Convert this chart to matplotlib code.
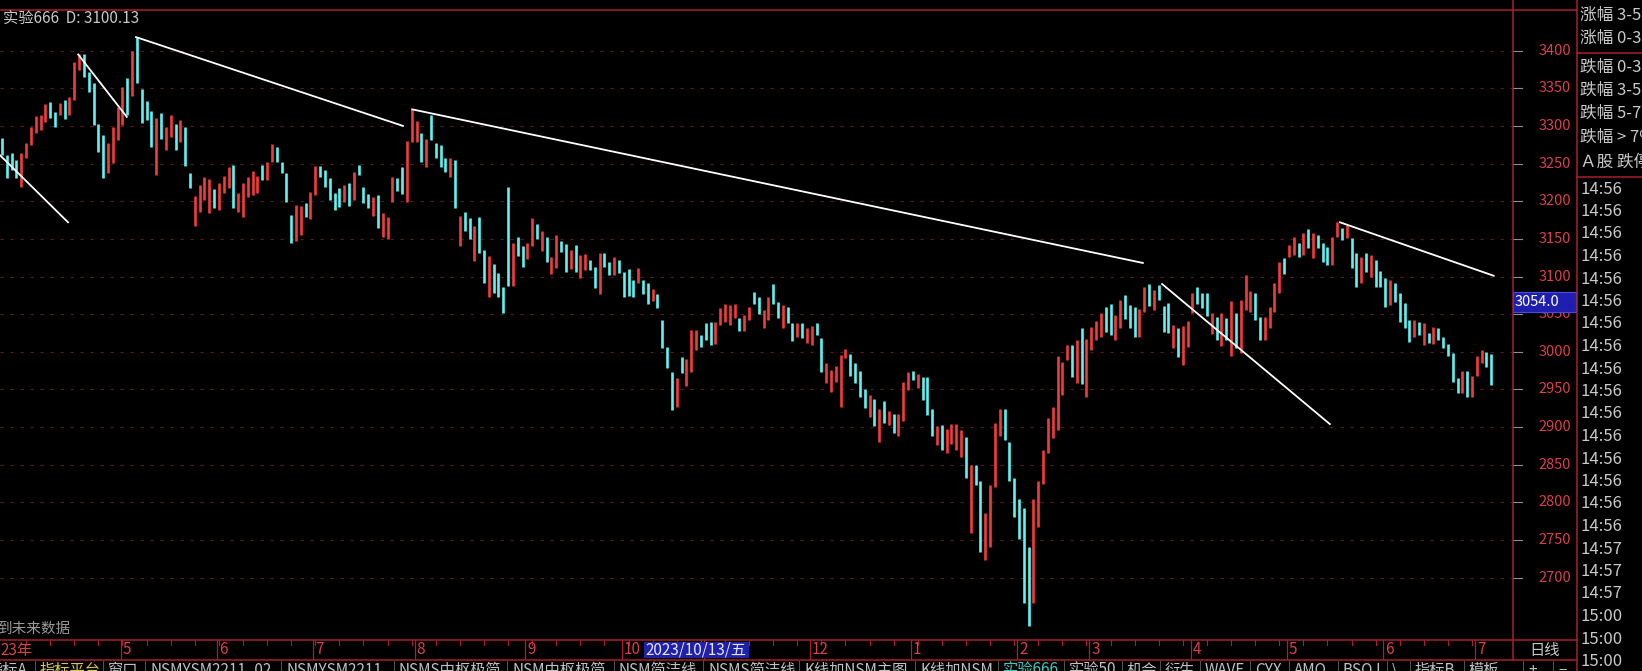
import numpy as np
import matplotlib
matplotlib.use("Agg")
import matplotlib.pyplot as plt
from matplotlib.patches import Rectangle

plt.rcParams['font.family'] = ['Noto Sans CJK SC', 'DejaVu Sans']

# daily bars, 2023-03-24 .. 2024-07-04 (one row per month)
open_ = [3284, 3261, 3264, 3255, 3219, 3257,
         3274, 3290, 3294, 3305, 3332, 3318, 3314, 3334, 3314, 3334, 3374, 3395, 3372, 3357, 3302, 3288, 3237, 3251, 3281,
         3301, 3363, 3340, 3418, 3349, 3333, 3320, 3235, 3317, 3268, 3285, 3303, 3279, 3298, 3238, 3167, 3186, 3201, 3185, 3216,
         3188, 3211, 3217, 3248, 3186, 3179, 3206, 3208, 3211, 3248, 3228, 3252, 3272, 3252, 3237, 3182, 3147, 3155, 3197, 3177,
         3208, 3247, 3241, 3231, 3211, 3217, 3199, 3224, 3202, 3248, 3219, 3210, 3180, 3208, 3153, 3150, 3199, 3231, 3245, 3199, 3278,
         3278, 3290, 3245, 3315, 3277, 3274, 3257, 3232, 3255, 3140, 3186, 3178, 3120, 3179, 3135, 3073, 3116, 3105, 3086, 3219, 3088, 3153, 3140,
         3123, 3140, 3170, 3134, 3152, 3103, 3111, 3147, 3143, 3110, 3142, 3098, 3109, 3122, 3113, 3077, 3131, 3119, 3102, 3122,
         3106, 3110, 3095, 3091, 3095, 3091, 3067, 3077, 3042, 3006, 2973, 2927, 2993, 2954, 2973, 3002, 3022,
         3038, 3040, 3010, 3036, 3040, 3036, 3045, 3045, 3027, 3042, 3079, 3073, 3032, 3042, 3090, 3066, 3032, 3060, 3038, 3019, 3038, 3012,
         3009, 3038, 3018, 2958, 2946, 2960, 2927, 2992, 2997, 2985, 2975, 2951, 2913, 2937, 2880, 2935, 2903, 2918, 2888, 2908, 2949,
         2975, 2952, 2966, 2966, 2924, 2876, 2903, 2866, 2877, 2869, 2860, 2887, 2759, 2849, 2829, 2723, 2741, 2820, 2888, 2924, 2880, 2832,
         2805, 2792, 2741, 2666, 2767, 2825, 2866, 2885, 2896, 2943, 2989, 3009, 2958, 3031, 2940,
         3003, 3016, 3020, 3060, 3064, 3016, 3031, 3075, 3062, 3060, 3020, 3053, 3090, 3055, 3089, 3061, 3065, 3005, 3031, 2982, 3006,
         3051, 3086, 3078, 3078, 3024, 3046, 3008, 3045, 2994, 3051, 2999, 3055, 3053, 3078, 3046, 3016, 3031, 3053, 3078, 3125,
         3126, 3128, 3144, 3128, 3163, 3124, 3155, 3144, 3139, 3115, 3152, 3165, 3151, 3151, 3131, 3091, 3131, 3099, 3122, 3107,
         3098, 3062, 3091, 3078, 3065, 3042, 3020, 3040, 3009, 3025, 3010, 3031, 3020, 3010, 2998, 2965, 2945, 2975, 2940,
         2968, 2985, 3000, 2997]
close = [3261, 3231, 3241, 3231, 3264, 3277,
         3298, 3313, 3314, 3329, 3310, 3298, 3330, 3309, 3338, 3385, 3395, 3365, 3345, 3301, 3265, 3231, 3277, 3298, 3325,
         3352, 3314, 3400, 3357, 3304, 3308, 3272, 3310, 3283, 3298, 3314, 3268, 3308, 3247, 3217, 3207, 3221, 3232, 3229, 3191,
         3224, 3233, 3245, 3191, 3211, 3224, 3232, 3240, 3234, 3228, 3252, 3276, 3252, 3237, 3199, 3144, 3195, 3194, 3179, 3212,
         3247, 3232, 3219, 3202, 3188, 3192, 3221, 3194, 3239, 3235, 3198, 3191, 3205, 3165, 3184, 3179, 3232, 3213, 3209, 3280, 3322,
         3306, 3252, 3282, 3281, 3257, 3245, 3239, 3257, 3191, 3180, 3160, 3150, 3167, 3131, 3091, 3127, 3078, 3073, 3052, 3088, 3145, 3127, 3113,
         3145, 3178, 3150, 3161, 3119, 3126, 3155, 3133, 3106, 3135, 3106, 3128, 3130, 3109, 3085, 3131, 3113, 3102, 3126, 3105,
         3073, 3074, 3073, 3111, 3077, 3064, 3084, 3058, 3005, 2978, 2923, 2965, 2972, 2991, 3029, 3029, 3006,
         3016, 3009, 3040, 3058, 3064, 3062, 3064, 3027, 3049, 3060, 3064, 3050, 3055, 3073, 3064, 3045, 3062, 3038, 3014, 3038, 3018, 3031,
         3034, 3022, 2973, 2985, 2976, 2981, 2996, 3004, 2968, 2958, 2940, 2925, 2942, 2901, 2924, 2905, 2921, 2892, 2918, 2960, 2973,
         2962, 2971, 2936, 2916, 2888, 2901, 2870, 2897, 2904, 2904, 2896, 2833, 2849, 2823, 2734, 2786, 2823, 2905, 2924, 2883, 2828, 2781,
         2752, 2666, 2636, 2804, 2829, 2869, 2912, 2927, 2995, 2987, 3009, 2967, 3016, 2957, 3017,
         3033, 3041, 3052, 3026, 3022, 3049, 3069, 3043, 3031, 3020, 3057, 3086, 3061, 3082, 3069, 3026, 3025, 3036, 2993, 3034, 3041,
         3078, 3064, 3058, 3047, 3051, 3016, 3051, 3015, 3068, 3005, 3069, 3102, 3081, 3042, 3016, 3046, 3060, 3091, 3119, 3103,
         3142, 3152, 3126, 3158, 3138, 3158, 3138, 3119, 3115, 3152, 3172, 3148, 3168, 3111, 3086, 3126, 3106, 3128, 3086, 3086,
         3060, 3095, 3066, 3040, 3031, 3013, 3042, 3022, 3038, 3012, 3033, 3016, 3005, 2995, 2960, 2945, 2975, 2940, 2968,
         2995, 3002, 2980, 2956]

# hand-drawn trend lines: (bar index, price) at both ends
trend_x = [(-0.4, 13.7), (15.8, 25.9), (27.8, 83.2), (85.1, 236.7), (240.7, 275.5), (277.6, 309.5)]
trend_y = [(3261, 3172), (3395, 3312), (3418, 3300), (3322, 3118), (3090, 2904), (3172, 3101)]

# November's label sits under the cursor date box, so it is left blank
month_start = [25, 45, 65, 86, 109, 129, 146, 168, 189, 211, 226, 247, 267, 287, 306]
month_label = ['5', '6', '7', '8', '9', '10', '', '12', '1', '2', '3', '4', '5', '6', '7']
price_ticks = [3400, 3350, 3300, 3250, 3200, 3150, 3100, 3050, 3000, 2950, 2900, 2850, 2800, 2750, 2700]
cursor_price = 3054.0
cursor_bar = 133  # 2023/10/13

panel_rows = ['涨幅 3-5%', '涨幅 0-3%', '跌幅 0-3%', '跌幅 3-5%', '跌幅 5-7%', '跌幅 > 7%', 'Ａ股 跌停']
times = ['14:56'] * 16 + ['14:57'] * 3 + ['15:00'] * 3
tabs = ['指标A', '指标平台', '窗口', 'NSMYSM2211_02', 'NSMYSM2211', 'NSMS中枢极简', 'NSM中枢极简', 'NSM简洁线',
        'NSMS简洁线', 'K线加NSM主图', 'K线加NSM', '实验666', '实验50', '机会', '衍生', 'WAVE', 'CYX', 'AMO',
        'BSQJ', '\\', '指标B', '模板', '+', '−']
tab_x = [-12, 40, 108, 150, 286, 399, 512, 619, 708, 804, 920, 1003, 1069, 1127, 1165, 1205, 1255, 1294, 1343, 1392, 1415, 1469, 1528, 1558]

RED = '#f03c3c'
CYAN = '#5ef2f2'
FRAME = '#a8202c'
LABEL = '#d8404a'
GRAY = '#c8c8c8'

W, H = 1642, 671
fig = plt.figure(figsize=(W / 100, H / 100), dpi=100, facecolor='black')

# main price axes: px 0..1513 horizontally, 9..640 vertically
ax = fig.add_axes([0, 1 - 640 / H, 1513 / W, 631 / H])
ax.set_facecolor('black')
ax.set_xlim(-0.415, 313.5)
ax.set_ylim(2617.2, 3455.3)
ax.axis('off')

for p in price_ticks:
    ax.axhline(p, color='#5a1a1e', lw=0.8, ls=(0, (3, 6)), zorder=1)

o = np.array(open_, dtype=float)
c = np.array(close, dtype=float)
idx = np.arange(len(o))
cols = np.where(c >= o, RED, CYAN)
ax.vlines(idx, np.minimum(o, c), np.maximum(o, c), colors=cols, lw=1.9, zorder=3)

for xs, ys in zip(trend_x, trend_y):
    ax.plot(xs, ys, color='white', lw=1.3, zorder=4)

# price labels on the right
ytr = ax.get_yaxis_transform()
for p in price_ticks:
    ax.plot([1.0, 1.006], [p, p], color='#909090', lw=0.8, transform=ytr, clip_on=False)
    ax.text(1571 / 1513, p, str(p), color=LABEL, fontsize=10.5, ha='right', va='center',
            transform=ytr, clip_on=False)
ax.add_patch(Rectangle((1.0, cursor_price - 1), 63 / 1513, 27, transform=ytr, clip_on=False,
                       facecolor='#1e1eb0', edgecolor='#4a4ae0', lw=0.8, zorder=6))
ax.text(1515 / 1513, cursor_price + 12.5, f'{cursor_price:.1f}', color='white', fontsize=10.5,
        ha='left', va='center', transform=ytr, clip_on=False, zorder=7)

# time axis band below the plot
xtr = ax.get_xaxis_transform()
band = -10 / 631
ax.text(-0.3, band, '23年', color=LABEL, fontsize=11, ha='left', va='center', transform=xtr, clip_on=False)
for s, lab in zip(month_start, month_label):
    ax.plot([s - 0.4, s - 0.4], [0, -19 / 631], color=FRAME, lw=0.9, transform=xtr, clip_on=False)
    if lab:
        ax.text(s, band, lab, color=LABEL, fontsize=11, ha='left', va='center', transform=xtr, clip_on=False)
for k in range(5, len(o), 5):
    ax.plot([k, k], [0, -5 / 631], color=FRAME, lw=0.8, transform=xtr, clip_on=False)
ax.add_patch(Rectangle((cursor_bar + 0.2, -18 / 631), 21.8, 16 / 631, transform=xtr, clip_on=False,
                       facecolor='#2020a8', edgecolor='none', zorder=6))
ax.text(cursor_bar + 0.5, band, '2023/10/13/五', color='#e6e6ff', fontsize=11, ha='left', va='center',
        transform=xtr, clip_on=False, zorder=7)

# overlay in pixel coordinates for the frame and side panels
ov = fig.add_axes([0, 0, 1, 1], zorder=5)
ov.set_xlim(0, W)
ov.set_ylim(H, 0)
ov.axis('off')
ov.patch.set_visible(False)

for xs, ys in [((0, 1577), (9.5, 9.5)), ((1513, 1513), (0, 660)), ((1577, 1577), (0, 671)),
               ((0, 1577), (639.5, 639.5)), ((0, 1577), (659.5, 659.5)),
               ((1577, W), (53, 53)), ((1577, W), (177, 177))]:
    ov.plot(xs, ys, color=FRAME, lw=1.1)

ov.text(3, 19, '实验666  D: 3100.13', color=GRAY, fontsize=11, ha='left', va='center')
ov.text(-3, 629, '到未来数据', color='#9a9a9a', fontsize=10.5, ha='left', va='center')
ov.text(1545, 650, '日线', color=GRAY, fontsize=11, ha='center', va='center')

row_y = [15, 38, 67, 90, 113, 137, 162]
for t, yy in zip(panel_rows, row_y):
    ov.text(1580, yy, t, color=GRAY, fontsize=12, ha='left', va='center')
for k, t in enumerate(times):
    ov.text(1580, 189 + 22.5 * k, t, color=GRAY, fontsize=12, ha='left', va='center')

for t, xx in zip(tabs, tab_x):
    col = '#d8c84a' if t == '指标平台' else ('#40c8c0' if t == '实验666' else '#c0c0c0')
    ov.text(xx, 662, t, color=col, fontsize=11, ha='left', va='top')
    ov.plot([xx - 5, xx - 5], [661, 671], color='#505050', lw=0.8)

fig.savefig('out.png', dpi=100, facecolor='black')
